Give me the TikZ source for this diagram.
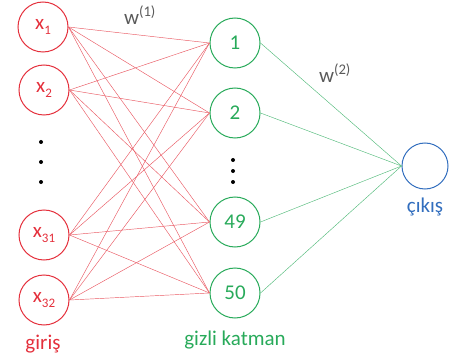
\documentclass[tikz,border=0pt]{standalone}
\usepackage{fontspec}
\setmainfont{Carlito}
\definecolor{inred}{RGB}{228,48,60}
\definecolor{hidgreen}{RGB}{40,170,90}
\definecolor{outblue}{RGB}{50,110,190}
\definecolor{wgray}{RGB}{90,90,90}
\begin{document}
\begin{tikzpicture}[x=1pt,y=-1pt,
  neuron/.style={circle,draw,line width=1pt,minimum size=50pt,inner sep=0pt,font=\fontsize{21}{22}\selectfont},
  inp/.style={neuron,draw=inred,text=inred},
  hid/.style={neuron,draw=hidgreen,text=hidgreen},
  outn/.style={neuron,draw=outblue,minimum size=46pt},
  redline/.style={draw=inred!80,line width=0.45pt},
  greenline/.style={draw=hidgreen!80,line width=0.45pt},
  lbl/.style={font=\fontsize{21}{22}\selectfont},
  dotm/.style={circle,fill=black,inner sep=0pt,minimum size=4pt}]
\useasboundingbox (0,0) rectangle (457,358);
\newcommand{\xsub}[1]{x\raisebox{-0.45ex}{\fontsize{13}{13}\selectfont #1}}
\node[inp] (i1) at (43,27) {\xsub{1}};
\node[inp] (i2) at (44,90) {\xsub{2}};
\node[inp] (i3) at (44,235) {\xsub{31}};
\node[inp] (i4) at (44,300) {\xsub{32}};
\node[hid] (h1) at (235,43) {1};
\node[hid] (h2) at (235,113) {2};
\node[hid] (h3) at (235,222) {49};
\node[hid] (h4) at (235,293) {50};
\node[outn] (o) at (425,166) {};
\foreach \i in {1,2,3,4}{
  \foreach \h in {1,2,3,4}{
    \draw[redline] (i\i.east) -- (h\h.west);
  }
  \draw[greenline] (h\i.east) -- (o.west);
}
\node[dotm] (d1) at (41,142) {};
\node[dotm] (d2) at (41,162) {};
\node[dotm] (d3) at (41,182) {};
\node[dotm] (e1) at (233,160) {};
\node[dotm] (e2) at (233,171) {};
\node[dotm] (e3) at (233,182) {};
\node[lbl,text=inred] (lg) at (43,344) {giriş};
\node[lbl,text=hidgreen] (lh) at (235,340) {gizli katman};
\node[lbl,text=outblue] (lo) at (425,207) {çıkış};
\node[lbl,text=wgray] (w1) at (140,15) {w\textsuperscript{(1)}};
\node[lbl,text=wgray] (w2) at (335,73) {w\textsuperscript{(2)}};
\end{tikzpicture}
\end{document}
